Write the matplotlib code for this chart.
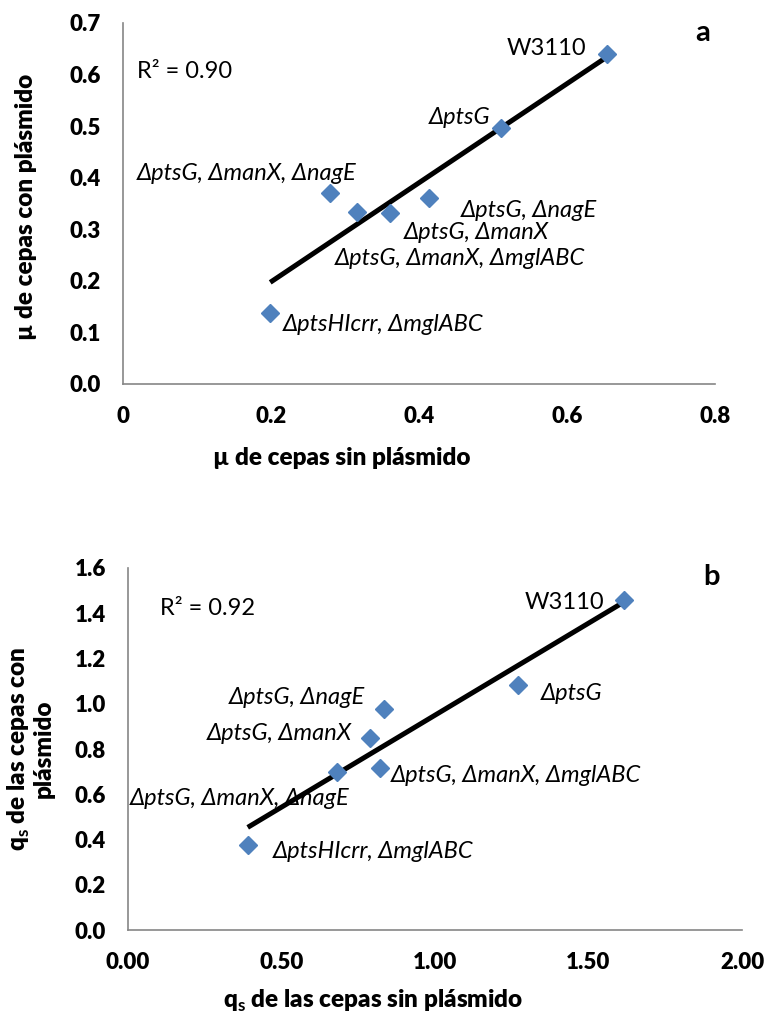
import matplotlib
matplotlib.use("Agg")
import matplotlib.pyplot as plt
import numpy as np

plt.rcParams['font.family'] = ['Lato', 'DejaVu Sans']
plt.rcParams['mathtext.fontset'] = 'custom'
plt.rcParams['mathtext.rm'] = 'Lato'
plt.rcParams['mathtext.bf'] = 'Lato:bold'

# panel a: growth rate
mu_sin = [0.654, 0.511, 0.280, 0.316, 0.361, 0.414, 0.199]
mu_con = [0.639, 0.496, 0.370, 0.334, 0.331, 0.361, 0.137]
labels_a = ["W3110", "\u0394ptsG", "\u0394ptsG, \u0394manX, \u0394nagE",
            "\u0394ptsG, \u0394manX, \u0394mglABC", "\u0394ptsG, \u0394manX",
            "\u0394ptsG, \u0394nagE", "\u0394ptsHIcrr, \u0394mglABC"]
# label anchor (x, y, ha)
lab_pos_a = [(0.626, 0.650, 'right'), (0.496, 0.516, 'right'), (0.019, 0.409, 'left'),
             (0.286, 0.244, 'left'), (0.380, 0.293, 'left'), (0.456, 0.337, 'left'),
             (0.216, 0.116, 'left')]

# panel b: glucose uptake
qs_sin = [1.617, 1.270, 0.834, 0.787, 0.682, 0.820, 0.390]
qs_con = [1.459, 1.083, 0.977, 0.850, 0.697, 0.717, 0.376]
labels_b = ["W3110", "\u0394ptsG", "\u0394ptsG, \u0394nagE", "\u0394ptsG, \u0394manX",
            "\u0394ptsG, \u0394manX, \u0394nagE", "\u0394ptsG, \u0394manX, \u0394mglABC",
            "\u0394ptsHIcrr, \u0394mglABC"]
lab_pos_b = [(1.552, 1.447, 'right'), (1.345, 1.046, 'left'), (0.328, 1.028, 'left'),
             (0.258, 0.869, 'left'), (0.005, 0.582, 'left'), (0.857, 0.681, 'left'),
             (0.473, 0.346, 'left')]

blue = '#4F81BD'
grey = '#868686'


def draw_panel(ax, x, y, labels, pos, r2, letter, letter_xy, r2_xy):
    x = np.array(x)
    y = np.array(y)
    m, b = np.polyfit(x, y, 1)
    xs = np.array([x.min(), x.max()])
    ax.plot(xs, m * xs + b, color='black', lw=3.6, solid_capstyle='butt', zorder=2)
    ax.plot(x, y, linestyle='none', marker='D', ms=9.5, color=blue, mec=blue, zorder=3)
    for t, (px, py, ha) in zip(labels, pos):
        st = 'normal' if t == "W3110" else 'italic'
        ax.text(px, py, t, ha=ha, va='center', fontsize=17, style=st)
    ax.text(r2_xy[0], r2_xy[1], r2, ha='left', va='center', fontsize=17)
    ax.text(letter_xy[0], letter_xy[1], letter, ha='center', va='center', fontsize=21, fontweight='bold')
    for s in ['top', 'right']:
        ax.spines[s].set_visible(False)
    for s in ['left', 'bottom']:
        ax.spines[s].set_color(grey)
        ax.spines[s].set_linewidth(1.2)
    ax.tick_params(length=0, pad=16, labelsize=16)
    for lbl in ax.get_xticklabels() + ax.get_yticklabels():
        lbl.set_fontweight('heavy')


fig = plt.figure(figsize=(7.71, 10.19), dpi=100)

ax1 = fig.add_axes([0.1595, 0.6232, 0.7678, 0.3543])
ax1.set_xlim(0, 0.8)
ax1.set_ylim(0, 0.7)
ax1.set_xticks(np.arange(0, 0.81, 0.2))
ax1.set_xticklabels(['0', '0.2', '0.4', '0.6', '0.8'])
ax1.set_yticks(np.arange(0, 0.71, 0.1))
ax1.set_yticklabels(['%.1f' % v for v in np.arange(0, 0.71, 0.1)])
draw_panel(ax1, mu_sin, mu_con, labels_a, lab_pos_a, "R\u00b2 = 0.90", "a", (0.783, 0.68), (0.019, 0.606))
ax1.set_xlabel("\u00b5 de cepas sin pl\u00e1smido", fontsize=17.5, fontweight='heavy')
ax1.set_ylabel("\u00b5 de cepas con pl\u00e1smido", fontsize=17.5, fontweight='heavy')
ax1.xaxis.set_label_coords(0.37, -0.175)
ax1.yaxis.set_label_coords(-0.145, 0.49)

ax2 = fig.add_axes([0.166, 0.0873, 0.7964, 0.3553])
ax2.set_xlim(0, 2.0)
ax2.set_ylim(0, 1.6)
ax2.set_xticks(np.arange(0, 2.01, 0.5))
ax2.set_xticklabels(['%.2f' % v for v in np.arange(0, 2.01, 0.5)])
ax2.set_yticks(np.arange(0, 1.61, 0.2))
ax2.set_yticklabels(['%.1f' % v for v in np.arange(0, 1.61, 0.2)])
draw_panel(ax2, qs_sin, qs_con, labels_b, lab_pos_b, "R\u00b2 = 0.92", "b", (1.90, 1.56), (0.104, 1.422))
ax2.set_xlabel("q$_\\mathbf{s}$ de las cepas sin pl\u00e1smido", fontsize=17.5, fontweight='heavy')
ax2.set_ylabel("q$_\\mathbf{s}$ de las cepas con\npl\u00e1smido", fontsize=17.5, fontweight='heavy',
               linespacing=1.0)
ax2.xaxis.set_label_coords(0.40, -0.16)
ax2.yaxis.set_label_coords(-0.12, 0.5)

fig.savefig("out.png", dpi=100)
